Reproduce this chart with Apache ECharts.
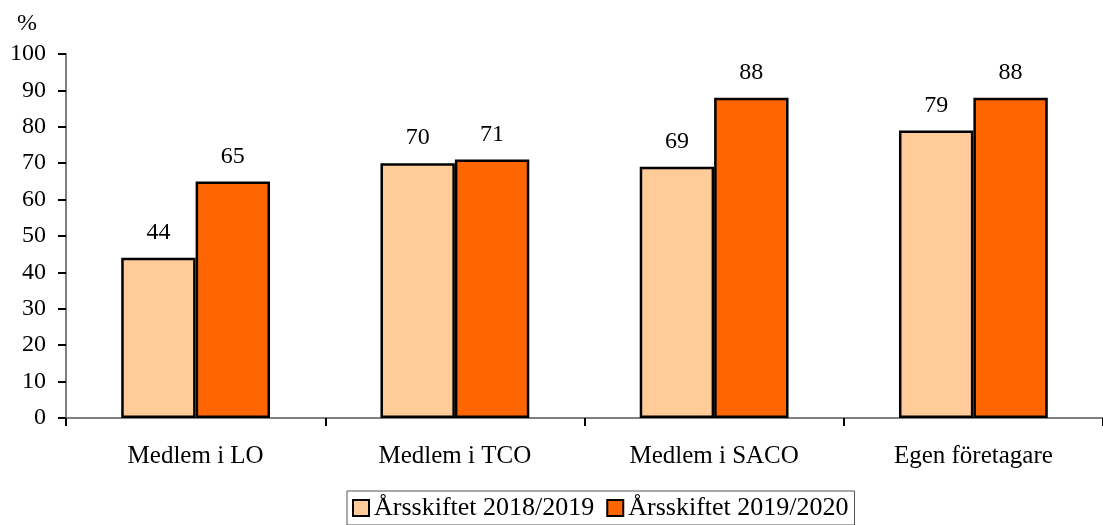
<!DOCTYPE html>
<html><head><meta charset="utf-8">
<script src="https://cdn.jsdelivr.net/npm/echarts@6/dist/echarts.min.js"></script>
<style>html,body{margin:0;padding:0;background:#fff}#c{width:1103px;height:525px}</style>
</head><body><div id="c"></div>
<script>
const categories = ['Medlem i LO', 'Medlem i TCO', 'Medlem i SACO', 'Egen företagare'];
const series2018 = [44, 70, 69, 79];
const series2020 = [65, 71, 88, 88];
const seriesNames = ['Årsskiftet 2018/2019', 'Årsskiftet 2019/2020'];
const FONT = '"Liberation Serif", "Times New Roman", serif';
const chart = echarts.init(document.getElementById('c'));
const lbl = {show: true, position: 'top', distance: 13, color: '#000', fontSize: 24, fontFamily: FONT};
chart.setOption({
  animation: false,
  textStyle: {fontFamily: FONT},
  grid: {left: 66, right: -9, top: 54, bottom: 107, containLabel: false},
  legend: {
    left: 347, top: 491, padding: [4, 6, 4, 5],
    borderColor: '#555', borderWidth: 1,
    icon: 'rect',
    itemWidth: 16, itemHeight: 16, itemGap: 12,
    textStyle: {fontSize: 26, fontFamily: FONT, color: '#000'},
    data: seriesNames
  },
  graphic: [{type: 'text', left: 17, top: 12, style: {text: '%', fontSize: 24, fontFamily: FONT, fill: '#000'}}],
  xAxis: {
    type: 'category', data: categories, boundaryGap: true,
    axisLine: {lineStyle: {color: '#808080', width: 2}},
    axisTick: {show: true, length: 8, lineStyle: {color: '#000', width: 2}},
    axisLabel: {color: '#000', fontSize: 25, fontFamily: FONT, margin: 26}
  },
  yAxis: {
    type: 'value', min: 0, max: 100, interval: 10,
    splitLine: {show: false},
    axisLine: {show: true, lineStyle: {color: '#808080', width: 2}},
    axisTick: {show: true, length: 8, lineStyle: {color: '#000', width: 2}},
    axisLabel: {color: '#000', fontSize: 24, fontFamily: FONT, margin: 20}
  },
  series: [
    {name: seriesNames[0], type: 'bar', data: series2018, barGap: '0%', barCategoryGap: '42.6%',
     itemStyle: {color: '#FFCC99', borderColor: '#000', borderWidth: 2.5}, label: lbl},
    {name: seriesNames[1], type: 'bar', data: series2020,
     itemStyle: {color: '#FF6600', borderColor: '#000', borderWidth: 2.5}, label: lbl}
  ]
});
</script></body></html>
